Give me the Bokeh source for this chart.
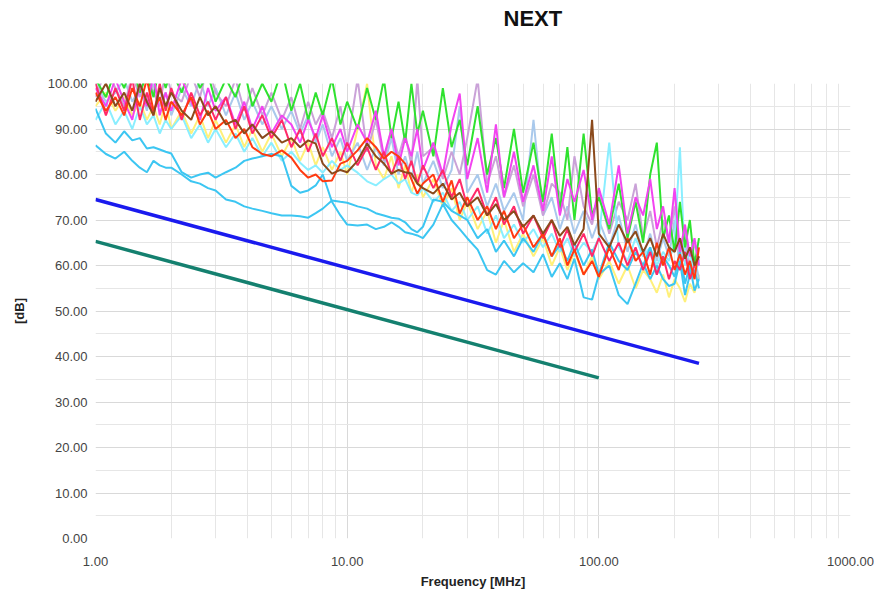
from bokeh.plotting import figure
from bokeh.models import FixedTicker, NumeralTickFormatter, Range1d, Title
from bokeh.embed import file_html
from bokeh.resources import INLINE

# ---- data ----
freq_mhz = [1.0, 1.1, 1.2, 1.3, 1.4, 1.5, 1.6, 1.7, 1.8, 1.9,
            2.0, 2.2, 2.4, 2.6, 2.8, 3.0, 3.3, 3.6, 3.9, 4.2,
            4.6, 5.0, 5.5, 6.0, 6.5, 7.0, 7.5, 8.0, 8.7, 9.4,
            10, 11, 12, 13, 14, 15, 16, 17, 18, 19,
            20, 22, 24, 26, 28, 30, 33, 36, 39, 42,
            46, 50, 55, 60, 65, 70, 75, 80, 87, 94,
            100, 110, 120, 130, 140, 150, 160, 170, 180, 190,
            200, 210, 220, 230, 240, 250]

yellow_db = [95, 98, 94, 97, 93, 96, 92, 95, 91, 96,
             90, 94, 89, 93, 88, 92, 87, 91, 86, 90,
             85, 89, 84, 88, 83, 87, 82, 86, 81, 85,
             80, 90, 100, 82, 79, 84, 77, 82, 76, 80,
             75, 79, 73, 77, 70, 74, 68, 72, 65, 70,
             63, 67, 62, 66, 60, 64, 59, 63, 58, 62,
             57, 61, 56, 60, 55, 59, 57, 54, 58, 53,
             57, 55, 52, 56, 54, 58]

lightblue_db = [100, 96, 98, 101, 96, 99, 94, 100, 96, 98,
                93, 99, 95, 101, 95, 99, 93, 98, 92, 96,
                91, 95, 90, 94, 89, 93, 87, 91, 84, 88,
                83, 87, 81, 86, 82, 88, 80, 84, 79, 85,
                78, 83, 77, 81, 95, 76, 80, 73, 78, 72,
                76, 70, 92, 71, 75, 68, 73, 67, 72, 66,
                70, 64, 71, 63, 69, 62, 67, 61, 66, 62,
                70, 59, 65, 58, 62, 57]

lavender_db = [97, 103, 99, 95, 102, 97, 104, 98, 95, 103,
               98, 96, 102, 97, 104, 98, 95, 101, 94, 99,
               93, 98, 92, 97, 90, 96, 91, 94, 88, 95,
               86, 101, 85, 92, 83, 90, 84, 89, 82, 101,
               84, 86, 79, 85, 80, 88, 101, 78, 84, 75,
               82, 73, 80, 71, 78, 76, 70, 84, 73, 69,
               76, 67, 74, 70, 78, 66, 72, 64, 70, 65,
               73, 62, 68, 59, 65, 61]

lightcyan_db = [92, 96, 91, 94, 90, 95, 91, 93, 89, 92,
                90, 93, 88, 91, 87, 90, 86, 89, 85, 88,
                84, 87, 83, 85, 82.6, 81, 82, 80.4, 83, 81,
                82, 80.4, 78.5, 77.6, 79, 80, 78, 79, 76, 75.4,
                77, 74, 76, 72, 74, 70, 73, 67, 71, 66,
                69, 65, 68, 64, 67, 63, 66, 62, 65, 63,
                66, 87, 64, 61, 66, 62, 64, 60, 63, 61,
                65, 86, 60, 63, 58, 61]

cyan_a_db = [94.5, 89, 87, 89.5, 87.5, 88, 85.7, 86, 85.5, 85,
             84.6, 80.5, 79.3, 80, 80.4, 79.3, 80.5, 81.5, 83, 83.5,
             84, 84.5, 84, 77.5, 76, 76.5, 77.6, 80, 74, 71,
             69, 68.8, 69, 68, 68.5, 69.5, 68.5, 67.3, 67, 66.6,
             66, 69, 73.5, 70, 68, 66, 63.5, 59, 58, 61,
             58.5, 60.5, 58.5, 62.5, 57.5, 60.5, 57, 61.5, 53, 52.5,
             58, 60, 53.5, 51.5, 56, 60.5, 57, 60, 57, 55.5,
             56, 61, 53.5, 58, 59, 55]

cyan_b_db = [86.4, 84.5, 83.5, 85, 83, 81.5, 80.5, 83, 82, 81.5,
             81.5, 80, 78.5, 78, 77, 76.5, 74.5, 74, 73, 72.5,
             72, 71.5, 71, 71, 70.8, 70.5, 71.5, 72.5, 74.3, 74,
             73.8, 73, 72.5, 71.5, 71, 70.5, 70.3, 69.5, 68, 67.3,
             68.5, 74.5, 74, 72, 71, 70, 66, 68, 63, 65.5,
             62, 66, 63, 67, 62, 64.5, 61, 65, 60, 63.5,
             58, 65, 61, 59, 63, 60, 64, 58, 62, 60,
             57.5, 63, 56, 60, 54.5, 57]

green_db = [101, 97, 103, 99, 104, 98, 102, 97, 104, 99,
            103, 98, 104, 99, 102, 96, 101, 97, 103, 95,
            100, 96, 103, 94, 100, 92, 98, 93, 101, 91,
            96, 90, 99, 92, 101, 88, 96, 87, 100, 89,
            94, 84, 99, 86, 92, 82, 95, 80, 88, 77,
            90, 76, 87, 74, 89, 72, 86, 70, 89, 71,
            75, 68, 78, 66, 74, 65, 80, 87, 66, 71,
            63, 74, 64, 70, 60, 66]

magenta_db = [99, 95, 101, 96, 92, 100, 95, 102, 93, 98,
              94, 101, 96, 92, 99, 94, 97, 91, 96, 90,
              95, 89, 93, 91, 87, 92, 88, 93, 86, 90,
              85, 91, 87, 94, 84, 90, 82, 88, 84, 90,
              81, 87, 80, 91, 97.8, 79, 88, 76, 91, 75,
              85, 74, 82, 72, 84, 71, 79, 74, 81, 70,
              77, 69, 82, 67, 75, 71, 79, 68, 73, 65,
              77, 63, 69, 62, 66, 60]

pink_db = [100, 93, 99, 94, 101, 92, 98, 93, 100, 94,
           99, 92, 98, 93, 96, 92, 97, 90, 95, 89,
           93, 88, 92, 86, 90, 85, 89, 84, 88, 83,
           87, 82, 86, 81, 85, 80, 84, 79, 83, 78,
           82, 77, 81, 75, 79, 73, 77, 71, 75, 69,
           73, 67, 71, 66, 70, 64, 68, 63, 67, 62,
           66, 61, 65, 60, 64, 59, 63, 58, 62, 57,
           61, 59, 63, 57, 60, 62]

red_db = [98, 94, 97, 93, 99, 95, 101, 94, 97, 92,
          96, 93, 97, 91, 94, 90, 92, 88, 90, 86,
          84.5, 84, 85.3, 83.7, 81, 79.3, 80, 78.5, 78.7, 82.4,
          83, 85.3, 88, 86, 83.5, 85, 84, 82.4, 79, 75.8,
          78, 80, 74, 78.7, 71.4, 75, 70, 73, 68, 72,
          66, 69, 64, 67, 62, 66, 60, 63.5, 58, 61,
          57.5, 64, 59, 66, 61, 63, 58, 65, 60, 64,
          59, 62.5, 58, 61, 57, 64]

brown_db = [96, 100, 95, 98, 94, 100, 96, 93, 99, 95,
            98, 94, 92, 97, 93, 95, 91, 92, 89, 91,
            88, 89.5, 87, 88, 86, 87.5, 86.8, 82.4, 80.2, 81,
            80.5, 83, 86.8, 84, 82.4, 80.2, 81, 80.5, 80.2, 78,
            77, 75.8, 78, 74.5, 76, 73, 75, 71, 73.5, 70,
            72, 68.5, 71, 67, 70, 66.5, 68.5, 64.5, 68, 92,
            67, 64, 69, 65, 67.5, 63, 66, 62, 67, 64,
            63, 66, 61.5, 64, 60, 62]

limit_1_freq = [1, 250]
limit_1_db = [74.5, 38.5]
limit_2_freq = [1, 100]
limit_2_db = [65.3, 35.3]

x_ticks = [1, 10, 100, 1000]
x_minor = [2, 3, 4, 5, 6, 7, 8, 9, 20, 30, 40, 50, 60, 70, 80, 90,
           200, 300, 400, 500, 600, 700, 800, 900]
y_ticks = [0, 10, 20, 30, 40, 50, 60, 70, 80, 90, 100]
y_minor = [5, 15, 25, 35, 45, 55, 65, 75, 85, 95]

traces = [
    (yellow_db, "#fff07a"),
    (lightblue_db, "#a9c9ec"),
    (lavender_db, "#caa2d8"),
    (lightcyan_db, "#8aeeff"),
    (cyan_a_db, "#3cc6f2"),
    (cyan_b_db, "#3cc6f2"),
    (green_db, "#2fe22f"),
    (magenta_db, "#f244f0"),
    (pink_db, "#ff2a6a"),
    (red_db, "#ff3a10"),
    (brown_db, "#8b4a1c"),
]

FONT = "Liberation Sans"

p = figure(width=874, height=592, x_axis_type="log",
           x_range=Range1d(1, 1000), y_range=Range1d(0, 100),
           output_backend="svg", toolbar_location=None,
           min_border_left=95, min_border_right=24,
           min_border_top=83, min_border_bottom=54)

# spacer title (closest to the frame) pushes the real title to the top
spacer = Title(text=" ", text_font=FONT, text_font_size="10px", standoff=40)
p.add_layout(spacer, "above")
main_title = Title(text="NEXT", text_font=FONT, text_font_size="22px",
                   text_font_style="bold", text_color="#111111",
                   align="left", offset=408, standoff=0)
p.add_layout(main_title, "above")

for vals, col in traces:
    p.line(freq_mhz, vals, line_color=col, line_width=2)

p.line(limit_1_freq, limit_1_db, line_color="#1a1aee", line_width=3.5)
p.line(limit_2_freq, limit_2_db, line_color="#14806f", line_width=3.5)

p.xaxis.ticker = FixedTicker(ticks=x_ticks, minor_ticks=x_minor)
p.yaxis.ticker = FixedTicker(ticks=y_ticks, minor_ticks=y_minor)
p.xaxis.formatter = NumeralTickFormatter(format="0.00")
p.yaxis.formatter = NumeralTickFormatter(format="0.00")

for ax in (p.xaxis, p.yaxis):
    ax.axis_line_color = None
    ax.major_tick_line_color = None
    ax.minor_tick_line_color = None
    ax.major_tick_out = 0
    ax.major_tick_in = 0
    ax.minor_tick_out = 0
    ax.major_label_text_font = FONT
    ax.major_label_text_font_size = "13px"
    ax.major_label_text_color = "#444444"
    ax.axis_label_text_font = FONT
    ax.axis_label_text_font_size = "13px"
    ax.axis_label_text_font_style = "bold"
    ax.axis_label_text_color = "#222222"

p.xaxis.axis_label = "Frequency [MHz]"
p.yaxis.axis_label = "[dB]"
p.xaxis.major_label_standoff = 18
p.yaxis.major_label_standoff = 8
p.xaxis.axis_label_standoff = 5
p.yaxis.axis_label_standoff = 18

p.xgrid.grid_line_color = "#d9d9d9"
p.ygrid.grid_line_color = "#d9d9d9"
p.xgrid.minor_grid_line_color = "#e6e6e6"
p.ygrid.minor_grid_line_color = "#e6e6e6"
p.outline_line_color = None

open("out.html", "w").write(file_html(p, INLINE))
